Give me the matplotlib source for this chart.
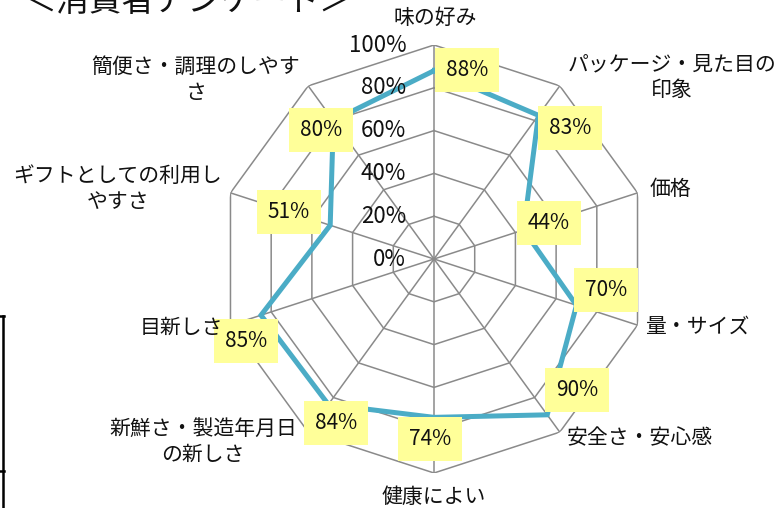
import numpy as np
import matplotlib
matplotlib.use("Agg")
import matplotlib.pyplot as plt
from matplotlib.lines import Line2D

plt.rcParams['font.family'] = ['Noto Sans CJK JP', 'DejaVu Sans']

# ---- data ----
categories = ["味の好み", "パッケージ・見た目の\n印象", "価格", "量・サイズ", "安全さ・安心感",
              "健康によい", "新鮮さ・製造年月日\nの新しさ", "目新しさ", "ギフトとしての利用し\nやすさ",
              "簡便さ・調理のしやす\nさ"]
values = [0.88, 0.83, 0.44, 0.70, 0.90, 0.74, 0.84, 0.85, 0.51, 0.80]
r_ticks = [0.0, 0.2, 0.4, 0.6, 0.8, 1.0]
r_tick_labels = ["0%", "20%", "40%", "60%", "80%", "100%"]
title = "＜消費者アンケート＞"

# ---- layout / style ----
W, H = 780, 508
fig = plt.figure(figsize=(7.8, 5.08), dpi=100)
cx, cy, R = 434, 259, 214
ax = fig.add_axes([(cx - R) / W, (H - cy - R) / H, 2 * R / W, 2 * R / H], projection='polar')
ax.set_theta_offset(np.pi / 2)
ax.set_theta_direction(-1)
ax.set_ylim(0, 1)
ax.set_axis_off()

n = len(categories)
angles = np.linspace(0, 2 * np.pi, n, endpoint=False)
ang_closed = np.append(angles, angles[0])

grid_color = "#8a8a8a"
for r in r_ticks[1:]:
    ax.plot(ang_closed, [r] * (n + 1), color=grid_color, lw=1.1, zorder=1)
for a in angles:
    ax.plot([a, a], [0, 1], color=grid_color, lw=1.1, zorder=1)

vals_closed = np.append(values, values[0])
ax.plot(ang_closed, vals_closed, color="#4BACC6", lw=3.6, zorder=3, solid_joinstyle='miter')

# radial tick labels
for r, lab in zip(r_ticks, r_tick_labels):
    ax.annotate(lab, xy=(0, r), xytext=(-20, 0), textcoords='offset points',
                ha='right', va='center', fontsize=16, color='#111111', zorder=4,
                annotation_clip=False)

# data labels (offsets in points)
offsets = [(23.8, 0.7), (22.8, -9.1), (18.3, 5.0), (21.2, 11.0), (21.5, 17.9),
           (-2.9, -15.6), (5.5, -13.4), (-10.8, -18.6), (-29.7, 9.6), (-8.9, -6.8)]
for a, v, off in zip(angles, values, offsets):
    ax.annotate(f"{round(v * 100)}%", xy=(a, v), xytext=off, textcoords='offset points',
                ha='center', va='center', fontsize=15, color='#111111', zorder=5,
                bbox=dict(boxstyle='square,pad=0.52', fc='#FFFF99', ec='none'),
                annotation_clip=False)

# category labels (pixel centers)
cat_pos = [(435, 18), (672, 77), (670, 189), (697, 327), (640, 438),
           (434, 497), (203, 442), (181, 328), (118, 189), (196, 80)]
for lab, (px, py) in zip(categories, cat_pos):
    fig.text(px / W, 1 - py / H, lab, ha='center', va='center', fontsize=15,
             color='#111111', linespacing=1.2, multialignment='center')

# clipped title at top (cut by the image edge as in the reference)
fig.text(24 / W, 1 - 11 / H, title, ha='left', va='baseline', fontsize=23.7, color='#111111')

# left border fragment
for xs, ys in [([3, 3], [316, 508]), ([0, 4], [316, 316]), ([0, 4], [471, 471])]:
    fig.add_artist(Line2D([x / W for x in xs], [1 - y / H for y in ys],
                          transform=fig.transFigure, color='black', lw=1.8))

fig.savefig("out.png", dpi=100)
